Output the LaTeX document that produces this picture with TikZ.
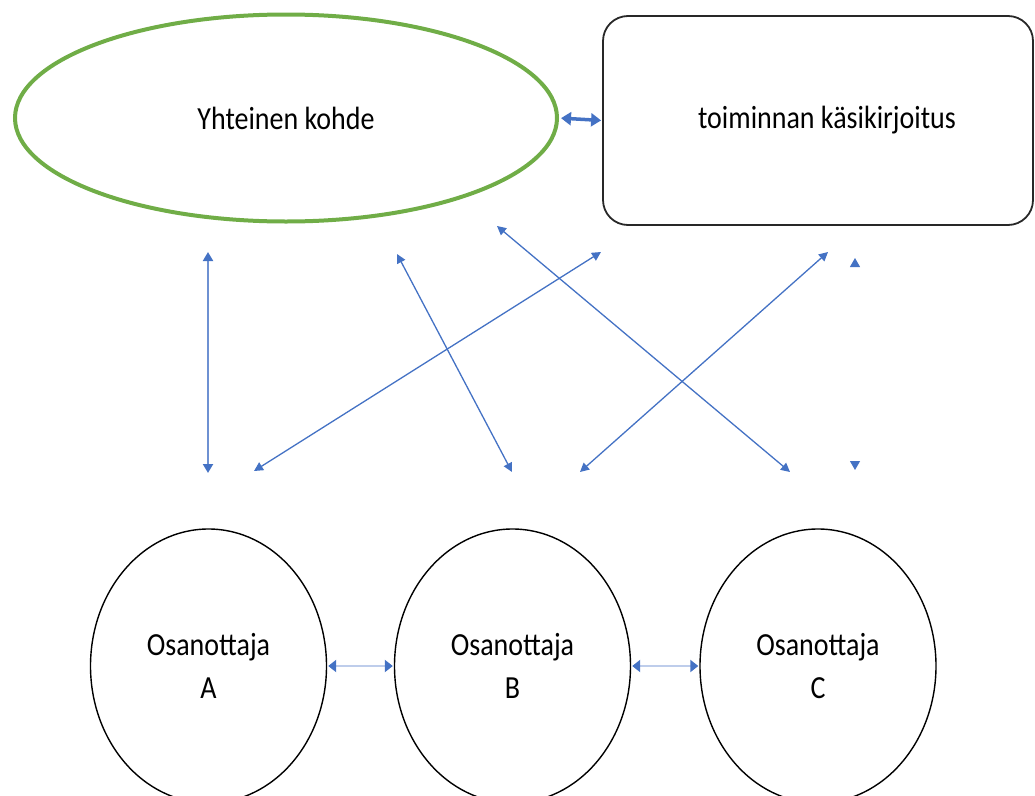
\documentclass[tikz,border=0pt]{standalone}
\usepackage{fontspec}
\usepackage{graphicx}
\setmainfont{Carlito}
\usetikzlibrary{shapes.geometric,arrows.meta}
\definecolor{ablue}{RGB}{68,114,196}
\definecolor{vblue}{RGB}{110,145,210}
\definecolor{lblue}{RGB}{190,205,235}
\definecolor{egreen}{RGB}{112,173,71}
\definecolor{rgray}{RGB}{40,40,40}
\newcommand\vtext[1]{\scalebox{1}[1.15]{#1}}
\begin{document}
\begin{tikzpicture}[x=1pt,y=-1pt,
  txt/.style={font=\fontsize{28}{43}\selectfont, align=center, text=black},
  bigell/.style={ellipse, draw=egreen, line width=4pt, minimum width=542pt, minimum height=207pt, inner sep=0pt},
  scriptbox/.style={draw=rgray, line width=1.8pt, rounded corners=25pt, minimum width=430pt, minimum height=209pt, inner sep=0pt},
  person/.style={ellipse, draw=black, line width=1.4pt, minimum width=236pt, minimum height=274pt, inner sep=0pt},
  conn/.style={draw=ablue, line width=1.3pt, {Triangle[length=9pt,width=9pt]}-{Triangle[length=9pt,width=9pt]}},
  vconn/.style={draw=vblue, line width=2pt, {Triangle[length=9pt,width=10pt,color=ablue]}-{Triangle[length=9pt,width=10pt,color=ablue]}},
  ghost/.style={draw=white, line width=1pt, {Triangle[length=9pt,width=10pt,color=ablue]}-{Triangle[length=9pt,width=10pt,color=ablue]}},
  topconn/.style={draw=ablue, line width=3.5pt, {Triangle[length=10pt,width=13pt]}-{Triangle[length=10pt,width=13pt]}, shorten <=2pt, shorten >=1pt},
  lconn/.style={draw=lblue, line width=2pt, {Triangle[length=8pt,width=12pt,color=ablue]}-{Triangle[length=8pt,width=12pt,color=ablue]}, shorten <=1pt, shorten >=1pt}
]
\useasboundingbox (0,0) rectangle (1035,795);
\begin{scope}
\clip (0,0) rectangle (1035,795);

\node[bigell, txt] (E) at (286,118) {\vtext{Yhteinen kohde}};
\node[scriptbox, txt] (R) at (818,120.5) {\vtext{\hspace*{18pt}toiminnan käsikirjoitus}};

\node[person, txt] (A) at (208.5,666) {\vtext{Osanottaja}\\\vtext{A}};
\node[person, txt] (B) at (512.5,666) {\vtext{Osanottaja}\\\vtext{B}};
\node[person, txt] (C) at (818,666) {\vtext{Osanottaja}\\\vtext{C}};

\draw[topconn] (E.east) -- (R.west);
\draw[lconn] (A.east) -- (B.west);
\draw[lconn] (B.east) -- (C.west);

\coordinate (v1t) at (208,252);
\coordinate (v1b) at (208,473);
\coordinate (d1b) at (254,471);
\coordinate (d1t) at (601,252);
\coordinate (d2t) at (397,254);
\coordinate (d2b) at (512,472);
\coordinate (d3t) at (497,226);
\coordinate (d3b) at (790,472);
\coordinate (d4b) at (580,472);
\coordinate (d4t) at (828,252);
\coordinate (v2t) at (855,258);
\coordinate (v2b) at (855,470);

\draw[vconn] (v1t) -- (v1b);
\draw[conn] (d1b) -- (d1t);
\draw[conn] (d2t) -- (d2b);
\draw[conn] (d3t) -- (d3b);
\draw[conn] (d4b) -- (d4t);
\draw[ghost] (v2t) -- (v2b);
\end{scope}
\end{tikzpicture}
\end{document}
